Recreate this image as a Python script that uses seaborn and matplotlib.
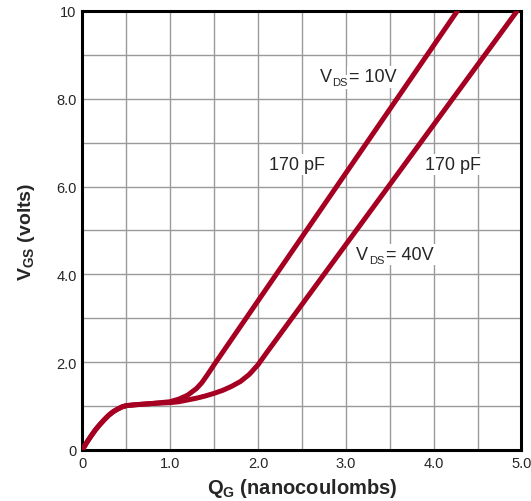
import pandas as pd
import seaborn as sns
import matplotlib.pyplot as plt

q_10v = [0, 0.05, 0.10, 0.15, 0.20, 0.25, 0.30, 0.35, 0.40, 0.45, 0.50, 0.60, 0.70, 0.80, 0.90,
         1.00, 1.10, 1.20, 1.30, 1.36, 1.42, 1.50, 4.27]
v_10v = [0, 0.17, 0.32, 0.46, 0.58, 0.69, 0.79, 0.87, 0.93, 0.98, 1.01, 1.03, 1.045, 1.06, 1.08,
         1.10, 1.16, 1.25, 1.40, 1.53, 1.70, 1.94, 10.0]
q_40v = [0, 0.05, 0.10, 0.15, 0.20, 0.25, 0.30, 0.35, 0.40, 0.45, 0.50, 0.60, 0.70, 0.80, 0.90,
         1.00, 1.10, 1.20, 1.30, 1.40, 1.50, 1.60, 1.70, 1.80, 1.90, 2.00, 2.10, 4.95]
v_40v = [0, 0.17, 0.32, 0.46, 0.58, 0.69, 0.79, 0.87, 0.93, 0.98, 1.01, 1.03, 1.045, 1.06, 1.07,
         1.08, 1.10, 1.14, 1.18, 1.23, 1.29, 1.36, 1.45, 1.56, 1.72, 1.94, 2.22, 10.0]

x_ticks = [0, 1, 2, 3, 4, 5]
x_tick_labels = ["0", "1.0", "2.0", "3.0", "4.0", "5.0"]
y_ticks = [0, 2, 4, 6, 8, 10]
y_tick_labels = ["0", "2.0", "4.0", "6.0", "8.0", "10"]

df_10 = pd.DataFrame({"qg": q_10v, "vgs": v_10v})
df_40 = pd.DataFrame({"qg": q_40v, "vgs": v_40v})

sns.set_style("white")
plt.rcParams['font.family'] = ['Liberation Sans', 'DejaVu Sans']
plt.rcParams['mathtext.fontset'] = 'custom'
plt.rcParams['mathtext.rm'] = 'Liberation Sans'
plt.rcParams['mathtext.bf'] = 'Liberation Sans:bold'
plt.rcParams['mathtext.it'] = 'Liberation Sans:italic'

fig = plt.figure(figsize=(5.31, 5.02), dpi=100)
ax = fig.add_axes([0.155, 0.1016, 0.827, 0.8745])

cor = '#A50021'
sns.lineplot(data=df_10, x="qg", y="vgs", ax=ax, color=cor, linewidth=3.6, sort=False, zorder=3)
sns.lineplot(data=df_40, x="qg", y="vgs", ax=ax, color=cor, linewidth=3.6, sort=False, zorder=3)

ax.set_xlim(0, 5)
ax.set_ylim(0, 10)

# grade
for gx in [0.5 * i for i in range(1, 10)]:
    ax.axvline(gx, color='#9a9a9a', linewidth=1.0, zorder=1)
for gy in range(1, 10):
    ax.axhline(gy, color='#9a9a9a', linewidth=1.0, zorder=1)

ax.set_xticks(x_ticks)
ax.set_xticklabels(x_tick_labels, fontsize=10.5)
ax.set_yticks(y_ticks)
ax.set_yticklabels(y_tick_labels, fontsize=10.5)
ax.tick_params(length=0, pad=4)

for s in ax.spines.values():
    s.set_color('black')
    s.set_linewidth(2.2)

ax.set_xlabel(r"Q$_\mathbf{G}$ (nanocoulombs)", fontsize=14.5, fontweight='bold', labelpad=5)
ax.set_ylabel(r"V$_\mathbf{GS}$ (volts)", fontsize=14, fontweight='bold', labelpad=14)

caixa = dict(facecolor='white', edgecolor='none', pad=1.5)


def rotulo_vds(x, y, resto):
    # V grande, DS pequeno, depois o resto
    ax.annotate("V", (x, y), fontsize=13, va='center', ha='left', bbox=caixa, zorder=2)
    ax.annotate("DS", (x, y), xytext=(9.2, -3.8), textcoords='offset points',
                fontsize=8, va='center', ha='left', bbox=caixa, zorder=2)
    ax.annotate(resto, (x, y), xytext=(21.5, 0), textcoords='offset points',
                fontsize=13, va='center', ha='left', bbox=caixa, zorder=2)


rotulo_vds(2.70, 8.5, "= 10V")
rotulo_vds(3.12, 4.45, "= 40V")
ax.text(2.13, 6.5, "170 pF", fontsize=13, va='center', ha='left', bbox=caixa, zorder=2)
ax.text(3.90, 6.5, "170 pF", fontsize=13, va='center', ha='left', bbox=caixa, zorder=2)

plt.savefig('out.png', dpi=100)
